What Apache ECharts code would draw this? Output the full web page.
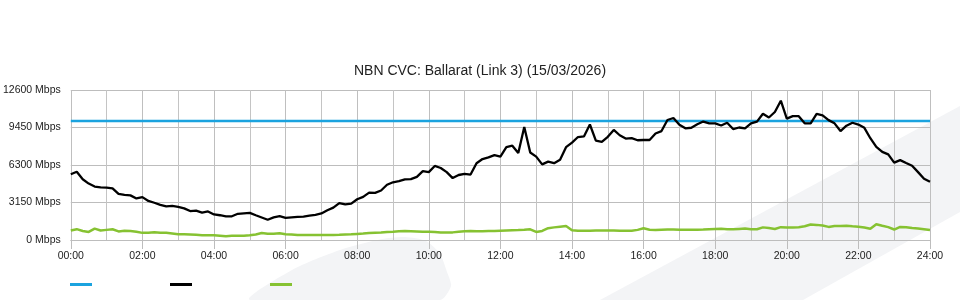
<!DOCTYPE html>
<html>
<head>
<meta charset="utf-8">
<script src="https://cdn.jsdelivr.net/npm/echarts@6/dist/echarts.min.js"></script>
<style>html,body{margin:0;padding:0;background:#fff}#chart{width:960px;height:300px}</style>
</head>
<body>
<div id="chart"></div>
<script>
// ---- data (Mbps, 10-minute samples from 00:00 to 24:00) ----
const titleText = 'NBN CVC: Ballarat (Link 3) (15/03/2026)';
const sampleStepHours = 1 / 6;
const xTickLabels = ['00:00','02:00','04:00','06:00','08:00','10:00','12:00','14:00','16:00','18:00','20:00','22:00','24:00'];
const yTickLabels = ['0 Mbps','3150 Mbps','6300 Mbps','9450 Mbps','12600 Mbps'];
const capacityTimes = [0, 24];
const capacity = [10000, 10000];
const inbound = [
  5520,5730,5100,4740,4490,4420,4400,4340,3870,3790,3750,3490,
  3600,3280,3130,2950,2830,2860,2780,2660,2430,2470,2300,2400,
  2150,2080,1990,1990,2200,2240,2280,2080,1890,1700,1900,2000,
  1860,1900,1940,1960,2040,2120,2230,2500,2720,3100,3000,3050,
  3420,3620,3980,3960,4160,4640,4850,4940,5090,5110,5300,5780,
  5700,6220,6050,5700,5200,5460,5560,5500,6450,6800,6940,7130,
  7000,7800,7920,7300,9500,7350,7000,6350,6580,6450,6750,7800,
  8180,8650,8700,9700,8350,8250,8670,9250,8800,8520,8560,8380,
  8400,8400,8950,9150,10080,10250,9680,9380,9430,9720,9950,9800,
  9800,9620,9850,9320,9450,9380,9800,9940,10600,10290,10750,11700,
  10200,10400,10400,9800,9800,10600,10470,10070,9800,9150,9600,9850,
  9700,9420,8550,7820,7400,7190,6500,6710,6470,6240,5700,5150,
  4900
];
const outbound = [
  800,910,760,680,960,800,850,900,720,770,760,700,
  600,600,650,600,600,540,480,480,470,440,400,390,
  390,360,320,350,360,360,400,470,580,520,520,560,
  480,470,430,420,420,420,430,430,420,440,470,480,
  510,540,580,610,640,680,700,730,750,740,720,700,
  700,680,630,620,640,700,740,750,740,730,750,760,
  780,800,820,830,860,900,680,760,990,1060,1120,1170,
  820,780,780,780,790,800,800,790,780,770,780,850,
  990,860,850,870,890,880,870,860,870,870,880,910,
  930,950,900,900,930,960,910,900,1060,1000,920,1080,
  1050,1060,1080,1150,1300,1270,1220,1100,1180,1180,1190,1150,
  1120,1050,950,1330,1200,1080,880,1100,1080,1000,960,900,
  840
];
const seriesNames = ['Capacity', 'Inbound', 'Outbound'];
const seriesColors = ['#1ba3df', '#000000', '#86c232'];

const chart = echarts.init(document.getElementById('chart'), null, {renderer: 'canvas'});
const toPairs = arr => arr.map((v, i) => [i * sampleStepHours, v]);
const font = '"Liberation Sans", Arial, sans-serif';

const legends = seriesNames.map((n, i) => ({
  data: [n], left: 70 + i * 100, top: 283, padding: 0,
  icon: 'rect', itemWidth: 22, itemHeight: 3,
  formatter: () => '', selectedMode: false,
  textStyle: {fontSize: 1}
}));

chart.setOption({
  animation: false,
  backgroundColor: '#ffffff',
  title: {
    text: titleText, left: 'center', top: 64, padding: 0,
    textStyle: {fontFamily: font, fontSize: 14, fontWeight: 'normal', color: '#222'}
  },
  legend: legends,
  graphic: [
    {type: 'polygon', z: -100, silent: true,
     shape: {points: [[600,300],[960,106],[960,212],[803,300]]},
     style: {fill: '#f3f4f6'}},
    {type: 'polygon', z: -100, silent: true,
     shape: {smooth: 0.25, points: [[250,300],[292,270],[340,250],[382,239],[405,237],[426,241],[440,254],[447,272],[451,286],[440,300]]},
     style: {fill: '#f3f4f6'}}
  ],
  grid: {left: 70, right: 30, top: 90, bottom: 60, containLabel: false},
  xAxis: {
    type: 'value', min: 0, max: 24, interval: 2,
    axisLine: {show: true, lineStyle: {color: '#bdbdbd', width: 1}},
    axisTick: {show: true, length: 9, lineStyle: {color: '#bdbdbd'}},
    axisLabel: {margin: 11, fontFamily: font, fontSize: 10.5, color: '#222',
      formatter: v => xTickLabels[Math.round(v / 2)]},
    splitLine: {show: true, lineStyle: {color: '#bfbfbf', width: 1}},
    minorTick: {show: false, splitNumber: 2},
    minorSplitLine: {show: true, lineStyle: {color: '#c4c4c4', width: 1}}
  },
  yAxis: {
    type: 'value', min: 0, max: 12600, interval: 3150,
    axisLine: {show: false}, axisTick: {show: false},
    axisLabel: {margin: 10, fontFamily: font, fontSize: 10.5, color: '#222',
      formatter: v => yTickLabels[Math.round(v / 3150)]},
    splitLine: {show: true, lineStyle: {color: '#bdbdbd', width: 1}}
  },
  series: [
    {name: seriesNames[0], type: 'line', data: capacity.map((v, i) => [capacityTimes[i], v]),
     showSymbol: false, lineStyle: {color: seriesColors[0], width: 2.5}, itemStyle: {color: seriesColors[0]}, z: 3},
    {name: seriesNames[1], type: 'line', data: toPairs(inbound),
     showSymbol: false, lineStyle: {color: seriesColors[1], width: 2.3}, itemStyle: {color: seriesColors[1]}, z: 4},
    {name: seriesNames[2], type: 'line', data: toPairs(outbound),
     showSymbol: false, lineStyle: {color: seriesColors[2], width: 2.5}, itemStyle: {color: seriesColors[2]}, z: 2}
  ]
});
</script>
</body>
</html>
